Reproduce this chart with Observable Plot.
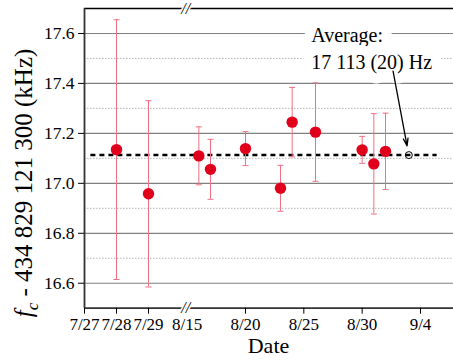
<!DOCTYPE html>
<html><head><meta charset="utf-8">
<script src="https://cdn.jsdelivr.net/npm/d3@7"></script>
<script src="https://cdn.jsdelivr.net/npm/@observablehq/plot@0.6"></script>
<style>body{margin:0;background:#fff} svg{display:block} svg text{font-family:'Liberation Serif','DejaVu Serif',serif !important}</style>
</head><body><div id="chart"></div>
<script>
// ---- data ----
const dates  = ["7/28","7/29","8/16","8/17","8/20","8/23","8/24","8/26","8/30","8/31","9/1"];
const values = [17.135,16.958,17.110,17.056,17.139,16.980,17.245,17.205,17.134,17.078,17.128];
const errors = [0.520,0.373,0.116,0.120,0.068,0.092,0.139,0.197,0.054,0.201,0.153];
const average = 17.113;
const averageDate = "9/3";
const averageText = ["Average:", "17 113 (20) Hz"];
const tickLabels = ["7/27","7/28","7/29","8/15","8/20","8/25","8/30","9/4"];
const yMajor = [16.6,16.8,17.0,17.2,17.4,17.6];
const yMinor = [16.7,16.9,17.1,17.3,17.5];

// day number counted from 7/27
function day(s){const [m,d]=s.split("/").map(Number);return Math.round((Date.UTC(2020,m-1,d)-Date.UTC(2020,6,27))/864e5);}
const rows = dates.map((d,i)=>({x:day(d), y:values[i], lo:values[i]-errors[i], hi:values[i]+errors[i]}));
const tickDays = tickLabels.map(day);
const labelOf = new Map(tickLabels.map(t=>[day(t),t]));
const breakDay = day("8/15");
const avgX = day(averageDate);

const capSymbol = {draw(ctx,size){const r=Math.sqrt(size/Math.PI);ctx.moveTo(-r,0);ctx.lineTo(r,0);}};
const FONT = "'Liberation Serif', 'DejaVu Serif', serif";

const chart = Plot.plot({
  width: 453, height: 360,
  marginLeft: 84, marginRight: 0, marginTop: 8, marginBottom: 52.3,
  style: {fontFamily: FONT, fontSize: "17px", background: "white", color: "black"},
  x: {type: "linear", domain: [0, 3.208, 19, 41.83], range: [84, 186.67, 186.67, 453]},
  y: {domain: [16.5, 17.7]},
  marks: [
    Plot.ruleY(yMinor, {stroke: "#b5b5b5", strokeWidth: 1, strokeDasharray: "1.5,1.5"}),
    Plot.ruleY(yMajor, {stroke: "#808080", strokeWidth: 1.2}),
    Plot.text([averageText.join("\n")], {x: 29.63, y: 17.642, text: d=>d, textAnchor: "start", lineAnchor: "top",
      lineHeight: 1.333, fontSize: 20, fill: "black", stroke: "white", strokeWidth: 20, strokeLinejoin: "round"}),
    Plot.ruleY([average], {x1: 0.2, x2: 40.43, stroke: "black", strokeWidth: 2.5, strokeDasharray: "5,4"}),
    Plot.ruleX(rows, {x: "x", y1: "lo", y2: "hi", stroke: "#f07082", strokeWidth: 1}),
    Plot.dot(rows, {x: "x", y: "lo", symbol: capSymbol, r: 3, stroke: "#f07082", strokeWidth: 1, fill: "none"}),
    Plot.dot(rows, {x: "x", y: "hi", symbol: capSymbol, r: 3, stroke: "#f07082", strokeWidth: 1, fill: "none"}),
    Plot.dot(rows, {x: "x", y: "y", r: 5.7, fill: "#e0001c", stroke: "none"}),
    Plot.dot([average], {x: avgX, y: d=>d, r: 3.5, stroke: "black", strokeWidth: 1, fill: "none"}),
    Plot.arrow([average], {x1: 36.65, y1: 17.449, x2: 37.85, y2: 17.150, stroke: "black", strokeWidth: 1.3, headLength: 9, headAngle: 35}),
    Plot.ruleY([17.7], {stroke: "black", strokeWidth: 1.5}),
    Plot.ruleY([16.5], {stroke: "#333", strokeWidth: 1.8}),
    Plot.ruleX([0], {y1: 16.5, y2: 17.7, stroke: "#333", strokeWidth: 1.8}),
    Plot.text([16.5, 17.7], {x: breakDay, y: d=>d, text: ()=>"//", fontSize: 16, fontStyle: "italic", dx: -1.5,
      fill: "black", stroke: "white", strokeWidth: 3}),
    Plot.axisY(yMajor, {anchor: "left", tickSize: 6, tickPadding: 4, label: null, fontSize: 17.5, tickFormat: d=>d.toFixed(1)}),
    Plot.axisX(tickDays.filter(d=>d!==breakDay), {anchor: "bottom", tickSize: 6, label: null, tickFormat: ()=>""}),
    Plot.axisX(tickDays, {anchor: "bottom", tickSize: 0, tickPadding: 10, label: null, fontSize: 17, tickFormat: d=>labelOf.get(d)})
  ]
});
document.getElementById("chart").appendChild(chart);

const svg = d3.select(chart);
const t = svg.append("text").attr("transform","translate(32,183) rotate(-90)").attr("text-anchor","middle")
  .attr("font-family",FONT).attr("font-size",25).attr("fill","black");
t.append("tspan").attr("font-style","italic").text("f");
t.append("tspan").attr("font-style","italic").attr("font-size",17).attr("dy",6).text("c");
t.append("tspan").attr("dy",-6).text(" - 434 829 121 300 (kHz)");
svg.append("text").attr("x",268.5).attr("y",353).attr("text-anchor","middle")
  .attr("font-family",FONT).attr("font-size",22).attr("fill","black").text("Date");
</script>
</body></html>
